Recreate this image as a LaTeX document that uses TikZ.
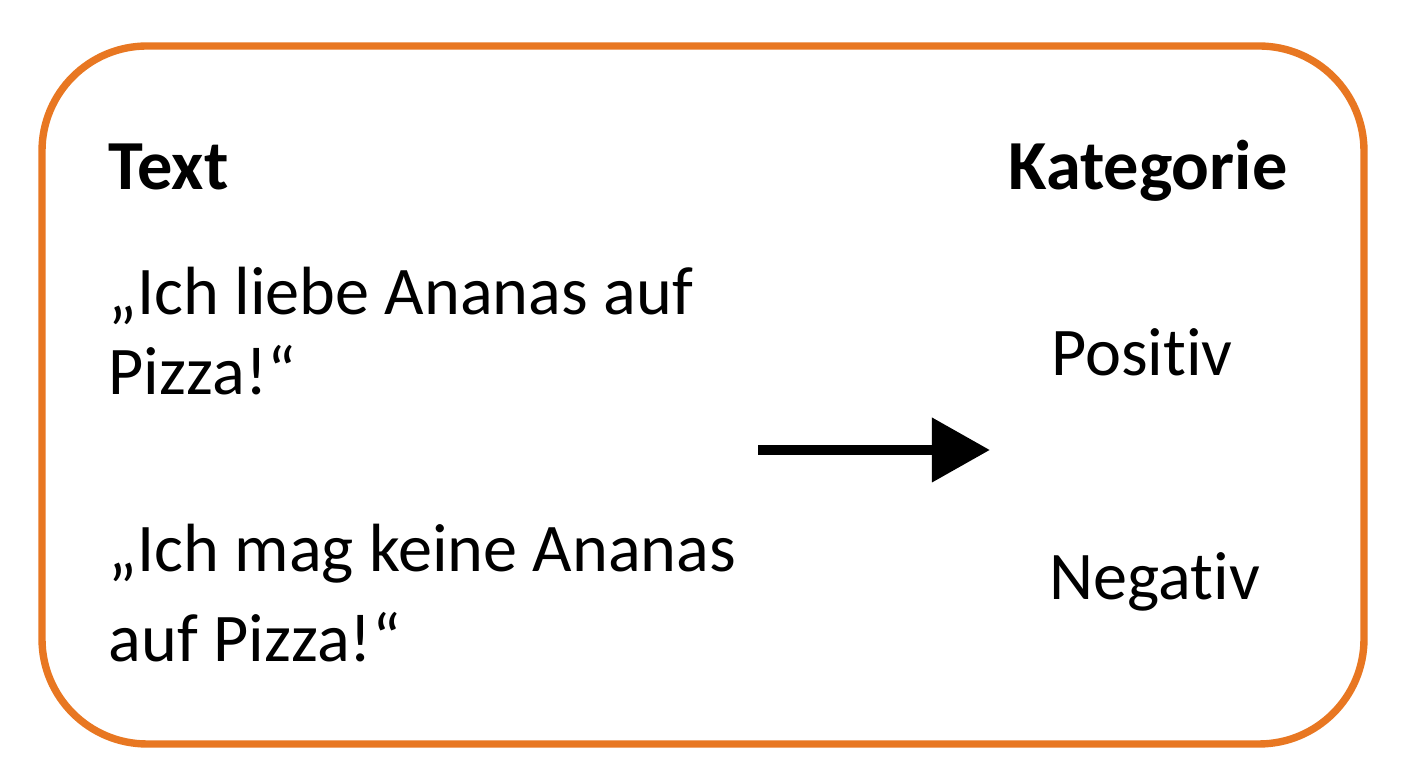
\documentclass[tikz,border=0pt]{standalone}
\usepackage{fontspec}
\setmainfont{Carlito}[Ligatures=NoCommon]
\usetikzlibrary{arrows.meta}
\definecolor{frameorange}{HTML}{E87722}
\tikzset{
  lbl/.style={font=\fontsize{19.4}{24}\selectfont, inner sep=0pt},
  head/.style={lbl, font=\fontsize{20}{24}\selectfont\bfseries},
}
\begin{document}
\begin{tikzpicture}[x=0.01cm,y=-0.01cm]
        \useasboundingbox (0,0) rectangle (1408,768);
        \draw[frameorange, line width=2.1pt, rounded corners=1.05cm] (42,46) rectangle (1364,744);
        \node[head, anchor=base west] (text) at (108,190) {Text};
        \node[head, anchor=base east] (kat) at (1288,190) {Kategorie};
        \node[lbl, anchor=base west] (s1a) at (108,315) {„Ich liebe Ananas auf};
        \node[lbl, anchor=base west] (s1b) at (108,395) {Pizza!“};
        \node[lbl, anchor=base west] (s2a) at (108,572) {„Ich mag keine Ananas};
        \node[lbl, anchor=base west] (s2b) at (108,662) {auf Pizza!“};
        \node[lbl, anchor=base] (pos) at (1142,376) {Positiv};
        \node[lbl, anchor=base] (neg) at (1155,600) {Negativ};
        \coordinate (a1) at (758,450);
        \coordinate (a2) at (990,450);
        \draw[line width=3pt, -{Triangle[length=0.58cm,width=0.62cm]}] (a1) -- (a2);
\end{tikzpicture}
\end{document}
